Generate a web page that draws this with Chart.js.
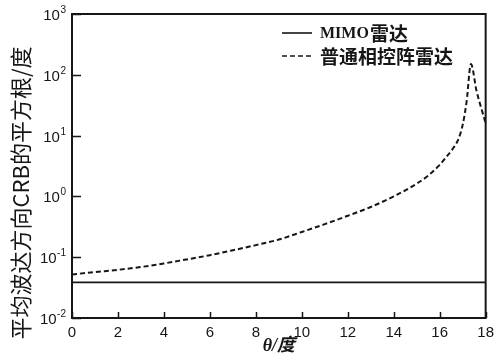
<!DOCTYPE html>
<html>
<head>
<meta charset="utf-8">
<script src="https://cdn.jsdelivr.net/npm/chart.js@4/dist/chart.umd.min.js"></script>
<style>
html,body{margin:0;padding:0;background:#fff;}
#wrap{width:500px;height:357px;}
</style>
</head>
<body>
<div id="wrap"><canvas id="c" width="500" height="357"></canvas></div>
<script>
// Data
const thetaPA = [0, 1, 2, 3, 4, 5, 6, 7, 8, 9, 10, 11, 12, 13, 14, 15, 15.5, 16, 16.3, 16.6, 16.8, 17.0, 17.17, 17.36, 17.6, 17.8, 18];
const crbPA   = [0.052, 0.057, 0.062, 0.069, 0.079, 0.092, 0.108, 0.13, 0.158, 0.195, 0.26, 0.35, 0.48, 0.67, 1.0, 1.62, 2.2, 3.3, 4.5, 6.3, 8.5, 15, 36, 150, 55, 29, 16];
const thetaMIMO = [0, 18];
const crbMIMO   = [0.0385, 0.0385];
const xTicks = [0, 2, 4, 6, 8, 10, 12, 14, 16, 18];
const yTicks = [0.01, 0.1, 1, 10, 100, 1000];
const yTickExp = ['-2', '-1', '0', '1', '2', '3'];
const seriesNames = ['MIMO雷达', '普通相控阵雷达'];
const xTitle = 'θ/度';
const yTitle = '平均波达方向CRB的平方根/度';

const ink = '#161616';

function drawMixed(ctx, text, x, y) {
  const runs = [];
  for (const ch of text) {
    const cjk = /[\u3000-\u9fff]/.test(ch);
    if (runs.length && runs[runs.length - 1].cjk === cjk) runs[runs.length - 1].t += ch;
    else runs.push({cjk, t: ch});
  }
  runs.forEach(r => {
    ctx.font = r.cjk ? 'bold 19px "Noto Sans CJK SC", sans-serif' : 'bold 16px "Liberation Serif", serif';
    ctx.fillText(r.t, x, y);
    x += ctx.measureText(r.t).width + (r.cjk ? 2 : 1);
  });
}

const frameAndTicks = {
  id: 'frameAndTicks',
  afterDraw(chart) {
    const ctx = chart.ctx, a = chart.chartArea;
    const xs = chart.scales.x, ys = chart.scales.y;
    ctx.save();
    ctx.strokeStyle = ink;
    ctx.lineWidth = 2;
    ctx.setLineDash([]);
    ctx.strokeRect(a.left, a.top, a.right - a.left, a.bottom - a.top);
    ctx.lineWidth = 1.5;
    ctx.beginPath();
    xTicks.forEach(v => {
      const px = Math.round(xs.getPixelForValue(v)) + 0.5;
      ctx.moveTo(px, a.bottom); ctx.lineTo(px, a.bottom - 6);
    });
    yTicks.forEach(v => {
      const py = Math.round(ys.getPixelForValue(v)) + 0.5;
      ctx.moveTo(a.left, py); ctx.lineTo(a.left + 9, py);
    });
    ctx.stroke();
    // y tick labels: 10 with superscript exponent
    ctx.fillStyle = ink;
    ctx.textBaseline = 'alphabetic';
    yTicks.forEach((v, i) => {
      const py = ys.getPixelForValue(v);
      const exp = yTickExp[i];
      ctx.font = '10px "Liberation Sans", Arial, sans-serif';
      const ew = ctx.measureText(exp).width;
      ctx.textAlign = 'left';
      ctx.fillText(exp, 66 - ew, py - 1);
      ctx.font = '15px "Liberation Sans", Arial, sans-serif';
      ctx.textAlign = 'right';
      ctx.fillText('10', 66 - ew - 0.5, py + 6);
    });
    // y title
    ctx.save();
    ctx.translate(21, 193);
    ctx.rotate(-Math.PI / 2);
    ctx.textAlign = 'center';
    ctx.textBaseline = 'middle';
    ctx.font = '22px "Noto Sans CJK SC", sans-serif';
    ctx.fillText(yTitle, 0, 0);
    ctx.restore();
    // legend
    const items = chart.data.datasets;
    const x0 = 282, x1 = 312;
    const ysL = [33, 56];
    items.forEach((ds, i) => {
      ctx.beginPath();
      ctx.lineWidth = 1.6;
      ctx.strokeStyle = ink;
      ctx.setLineDash(ds.borderDash || []);
      ctx.moveTo(x0, ysL[i]); ctx.lineTo(x1, ysL[i]);
      ctx.stroke();
      ctx.setLineDash([]);
      ctx.fillStyle = ink;
      ctx.textBaseline = 'middle';
      ctx.textAlign = 'left';
      drawMixed(ctx, ds.label, 320, ysL[i] + 1);
    });
    ctx.restore();
  }
};

new Chart(document.getElementById('c'), {
  type: 'line',
  data: {
    datasets: [
      {
        label: seriesNames[0],
        data: thetaMIMO.map((t, i) => ({x: t, y: crbMIMO[i]})),
        borderColor: ink,
        borderWidth: 1.6,
        pointRadius: 0,
        fill: false
      },
      {
        label: seriesNames[1],
        data: thetaPA.map((t, i) => ({x: t, y: crbPA[i]})),
        borderColor: ink,
        borderWidth: 2,
        borderDash: [5, 3],
        pointRadius: 0,
        cubicInterpolationMode: 'monotone',
        fill: false
      }
    ]
  },
  options: {
    responsive: false,
    animation: false,
    devicePixelRatio: 1,
    layout: { padding: { top: 14, right: 8, left: 0, bottom: 0 } },
    plugins: { legend: { display: false }, tooltip: { enabled: false } },
    scales: {
      x: {
        type: 'linear',
        min: 0, max: 18,
        afterBuildTicks: s => { s.ticks = xTicks.map(v => ({value: v})); },
        afterFit: s => { s.height = 39; },
        grid: { display: false, drawTicks: false },
        border: { display: false },
        ticks: {
          color: ink,
          padding: 6,
          maxRotation: 0,
          font: { family: '"Liberation Sans", Arial, sans-serif', size: 15 },
          callback: v => String(v)
        },
        title: {
          display: true,
          text: xTitle,
          color: ink,
          padding: { top: -2, bottom: 0 },
          font: { family: '"Liberation Serif", "Noto Sans CJK SC", serif', size: 18, style: 'italic', weight: 'bold' }
        }
      },
      y: {
        type: 'logarithmic',
        min: 0.01, max: 1000,
        afterBuildTicks: s => { s.ticks = yTicks.map(v => ({value: v})); },
        afterFit: s => { s.width = 72; },
        grid: { display: false, drawTicks: false },
        border: { display: false },
        ticks: { display: false },
        title: { display: false }
      }
    }
  },
  plugins: [frameAndTicks]
});
</script>
</body>
</html>
